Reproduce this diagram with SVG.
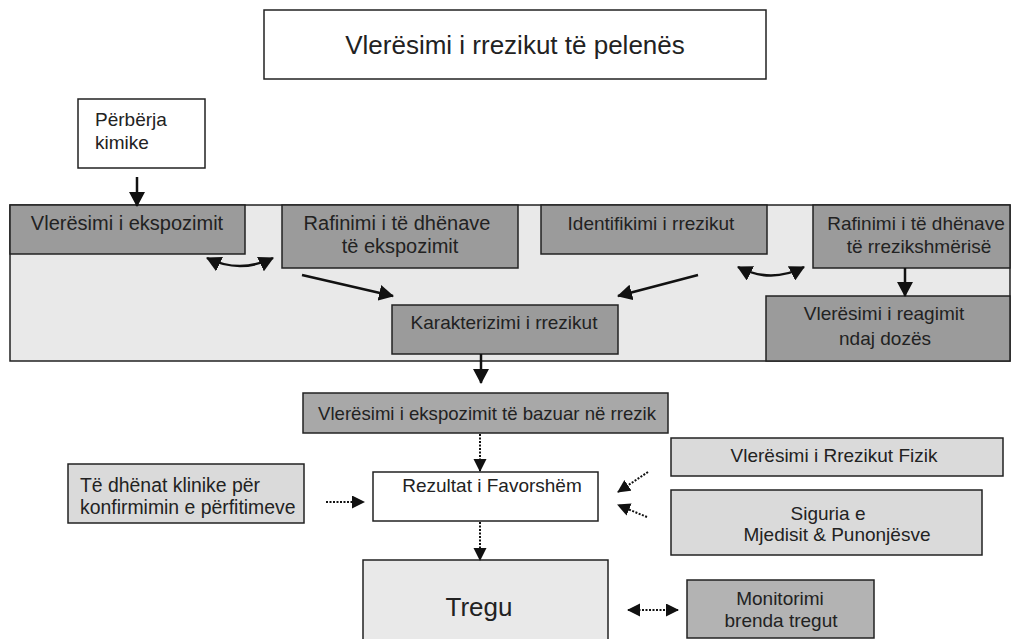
<svg xmlns="http://www.w3.org/2000/svg" width="1011" height="639" viewBox="0 0 1011 639">
<style>
  text { font-family: "Liberation Sans", Arial, sans-serif; fill: #222; }
  .t19 { font-size: 19px; }
  .t20 { font-size: 20px; }
  .box { stroke: #222; stroke-width: 1.5; }
  .white { fill: #ffffff; }
  .dark { fill: #9b9b9b; }
  .mid { fill: #a8a8a8; }
  .mon { fill: #b3b3b3; }
  .light { fill: #dadada; }
  .panel { fill: #e9e9e9; }
  .solid { stroke: #111; stroke-width: 2.5; fill: none; }
  .dot { stroke: #111; stroke-width: 2; stroke-dasharray: 2 1.5; fill: none; }
</style>
<defs>
  <marker id="ah" markerUnits="userSpaceOnUse" markerWidth="16" markerHeight="16" refX="14" refY="8" orient="auto-start-reverse" viewBox="0 0 16 16">
    <path d="M0,0 L15,8 L0,16 z" fill="#111"/>
  </marker>
  <marker id="ahs" markerUnits="userSpaceOnUse" markerWidth="14" markerHeight="14" refX="12" refY="6.5" orient="auto-start-reverse" viewBox="0 0 14 14">
    <path d="M0,0 L13,6.5 L0,13 z" fill="#111"/>
  </marker>
</defs>

<g id="panel">
  <rect class="box panel" x="10" y="205" width="1000" height="156"/>
</g>

<g id="title">
  <rect class="box white" x="264" y="10" width="502" height="69"/>
  <text x="515" y="54" font-size="26" text-anchor="middle">Vlerësimi i rrezikut të pelenës</text>
</g>

<g id="perberja">
  <rect class="box white" x="78" y="99" width="127" height="69"/>
  <text class="t19" x="95" y="126">Përbërja</text>
  <text class="t19" x="95" y="149">kimike</text>
</g>

<g id="vleresimi-ekspozimit">
  <rect class="box dark" x="10" y="205" width="235" height="49"/>
  <text class="t20" x="127" y="230" text-anchor="middle">Vlerësimi i ekspozimit</text>
</g>

<g id="rafinimi-ekspozimit">
  <rect class="box dark" x="282" y="205" width="236" height="63"/>
  <text class="t20" x="397" y="230" text-anchor="middle">Rafinimi i të dhënave</text>
  <text class="t20" x="400" y="253" text-anchor="middle">të ekspozimit</text>
</g>

<g id="identifikimi">
  <rect class="box dark" x="541" y="205" width="226" height="49"/>
  <text class="t19" x="651" y="230" text-anchor="middle">Identifikimi i rrezikut</text>
</g>

<g id="rafinimi-rrezikshmerise">
  <rect class="box dark" x="813" y="205" width="197" height="63"/>
  <text class="t19" x="916" y="230" text-anchor="middle">Rafinimi i të dhënave</text>
  <text class="t19" x="919" y="253" text-anchor="middle">të rrezikshmërisë</text>
</g>

<g id="reagimi-dozes">
  <rect class="box dark" x="766" y="296" width="244" height="65"/>
  <text class="t19" x="884" y="320" text-anchor="middle">Vlerësimi i reagimit</text>
  <text class="t19" x="885" y="345" text-anchor="middle">ndaj dozës</text>
</g>

<g id="karakterizimi">
  <rect class="box dark" x="392" y="305" width="226" height="49"/>
  <text class="t19" x="504" y="329" text-anchor="middle">Karakterizimi i rrezikut</text>
</g>

<g id="bazuar">
  <rect class="box mid" x="303" y="393" width="365" height="40"/>
  <text x="487" y="420" font-size="18.6" text-anchor="middle">Vlerësimi i ekspozimit të bazuar në rrezik</text>
</g>

<g id="klinike">
  <rect class="box light" x="68" y="464" width="236" height="59"/>
  <text x="80" y="492" font-size="19.4">Të dhënat klinike për</text>
  <text x="80" y="514" font-size="19.4">konfirmimin e përfitimeve</text>
</g>

<g id="rezultat">
  <rect class="box white" x="373" y="472" width="225" height="49"/>
  <text class="t19" x="492" y="492" text-anchor="middle">Rezultat i Favorshëm</text>
</g>

<g id="fizik">
  <rect class="box light" x="671" y="438" width="332" height="38"/>
  <text class="t19" x="834" y="462" text-anchor="middle">Vlerësimi i Rrezikut Fizik</text>
</g>

<g id="siguria">
  <rect class="box light" x="671" y="490" width="311" height="65"/>
  <text class="t19" x="828" y="520" text-anchor="middle">Siguria e</text>
  <text class="t19" x="837" y="541" text-anchor="middle">Mjedisit &amp; Punonjësve</text>
</g>

<g id="tregu">
  <rect class="box panel" x="363" y="560" width="245" height="90"/>
  <text x="479" y="616" font-size="26" text-anchor="middle">Tregu</text>
</g>

<g id="monitorimi">
  <rect class="box mon" x="687" y="580" width="187" height="58"/>
  <text class="t19" x="780" y="605" text-anchor="middle">Monitorimi</text>
  <text class="t19" x="781" y="627" text-anchor="middle">brenda tregut</text>
</g>

<g id="connectors">
  <line class="solid" x1="137" y1="177" x2="137" y2="206" marker-end="url(#ah)"/>
  <path class="solid" d="M207,258 Q240,274 273,258" marker-start="url(#ah)" marker-end="url(#ah)"/>
  <path class="solid" d="M738,267 Q771,284 804,267" marker-start="url(#ah)" marker-end="url(#ah)"/>
  <line class="solid" x1="302" y1="275" x2="393" y2="296" marker-end="url(#ah)"/>
  <line class="solid" x1="698" y1="275" x2="618" y2="296" marker-end="url(#ah)"/>
  <line class="solid" x1="905" y1="268" x2="905" y2="296" marker-end="url(#ah)"/>
  <line class="solid" x1="481" y1="354" x2="481" y2="383" marker-end="url(#ah)"/>
  <line class="dot" x1="480" y1="434" x2="480" y2="471" marker-end="url(#ahs)"/>
  <line class="dot" x1="326" y1="502" x2="364" y2="502" marker-end="url(#ahs)"/>
  <line class="dot" x1="648" y1="472" x2="618" y2="492" marker-end="url(#ahs)"/>
  <line class="dot" x1="647" y1="517" x2="618" y2="505" marker-end="url(#ahs)"/>
  <line class="dot" x1="480" y1="522" x2="480" y2="560" marker-end="url(#ahs)"/>
  <line class="dot" x1="628" y1="610" x2="678" y2="610" marker-start="url(#ahs)" marker-end="url(#ahs)"/>
</g>
</svg>
